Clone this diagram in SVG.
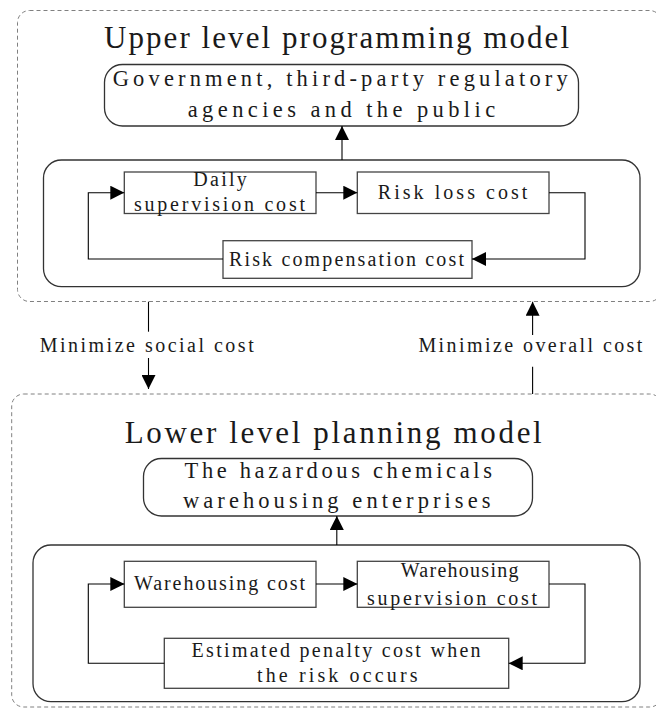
<svg xmlns="http://www.w3.org/2000/svg" width="656" height="708" viewBox="0 0 656 708">
<defs>
<marker id="ah" markerUnits="userSpaceOnUse" markerWidth="14" markerHeight="14" refX="14" refY="7" orient="auto">
<path d="M0,0 L14,7 L0,14 z" fill="#000"/>
</marker>
<style>
.dash{fill:none;stroke:#808080;stroke-width:1;stroke-dasharray:4 3}
.rbox{fill:#fff;stroke:#333;stroke-width:1.3}
.box{fill:#fff;stroke:#444;stroke-width:1.3}
.conn{fill:none;stroke:#000;stroke-width:1.1}
.arr{marker-end:url(#ah)}
text{font-family:"Liberation Serif","DejaVu Serif",serif;fill:#1a1a1a}
.t1{font-size:31px}
.t2{font-size:22.5px}
.t3{font-size:20px}
</style>
</defs>
<g id="upper-frame">
<rect class="dash" x="17.5" y="10.5" width="644" height="291" rx="12"/>
<text class="t1" x="104" y="48" textLength="465" lengthAdjust="spacing">Upper level programming model</text>
</g>
<g id="lower-frame">
<rect class="dash" x="11.7" y="394" width="650" height="313" rx="12"/>
<text class="t1" x="124.7" y="443.3" textLength="417" lengthAdjust="spacing">Lower level planning model</text>
</g>
<g id="upper-inner"><rect class="rbox" x="43.5" y="160" width="596.5" height="126.7" rx="18"/></g>
<g id="lower-inner"><rect class="rbox" x="33" y="545" width="607" height="156.7" rx="18"/></g>
<g id="government">
<rect class="rbox" x="104.5" y="64.5" width="474" height="61.5" rx="18"/>
<text class="t2" x="112.7" y="86" textLength="455" lengthAdjust="spacing">Government, third-party regulatory</text>
<text class="t2" x="187.7" y="117" textLength="307.5" lengthAdjust="spacing">agencies and the public</text>
</g>
<g id="daily">
<rect class="box" x="124.3" y="172" width="191.7" height="41.5"/>
<text class="t3" x="193.3" y="186" textLength="53.5" lengthAdjust="spacing">Daily</text>
<text class="t3" x="134" y="210.5" textLength="171" lengthAdjust="spacing">supervision cost</text>
</g>
<g id="riskloss">
<rect class="box" x="357.3" y="172" width="191.7" height="41.5"/>
<text class="t3" x="377.8" y="198.5" textLength="149.6" lengthAdjust="spacing">Risk loss cost</text>
</g>
<g id="compensation">
<rect class="box" x="223" y="240.7" width="249" height="37.6"/>
<text class="t3" x="229" y="265.5" textLength="235" lengthAdjust="spacing">Risk compensation cost</text>
</g>
<g id="hazardous">
<rect class="rbox" x="143.5" y="458.5" width="389" height="57.5" rx="18"/>
<text class="t2" x="184.5" y="478.3" textLength="307.5" lengthAdjust="spacing">The hazardous chemicals</text>
<text class="t2" x="183" y="508.3" textLength="307.5" lengthAdjust="spacing">warehousing enterprises</text>
</g>
<g id="warehousing">
<rect class="box" x="124.3" y="561.3" width="191.7" height="46"/>
<text class="t3" x="134" y="590" textLength="171" lengthAdjust="spacing">Warehousing cost</text>
</g>
<g id="wsupervision">
<rect class="box" x="357.3" y="561.3" width="191.7" height="46"/>
<text class="t3" x="400.8" y="576.7" textLength="117.7" lengthAdjust="spacing">Warehousing</text>
<text class="t3" x="367" y="604.5" textLength="170" lengthAdjust="spacing">supervision cost</text>
</g>
<g id="penalty">
<rect class="box" x="164.3" y="638.3" width="344.4" height="50"/>
<text class="t3" x="191.6" y="656.7" textLength="289" lengthAdjust="spacing">Estimated penalty cost when</text>
<text class="t3" x="257" y="681.7" textLength="160.5" lengthAdjust="spacing">the risk occurs</text>
</g>
<g id="labels">
<text class="t3" x="39.7" y="351.5" textLength="214" lengthAdjust="spacing">Minimize social cost</text>
<text class="t3" x="418.4" y="351.5" textLength="224" lengthAdjust="spacing">Minimize overall cost</text>
</g>
<g id="connectors">
<path class="conn arr" d="M342,160 V126"/>
<path class="conn arr" d="M316,192.7 H357.3"/>
<path class="conn arr" d="M549,192.7 H585 V259 H472"/>
<path class="conn arr" d="M223,259 H88.3 V192.7 H124.3"/>
<path class="conn" d="M148.5,301.7 V331.7"/>
<path class="conn arr" d="M148.5,358 V389"/>
<path class="conn" d="M532.6,394 V366.7"/>
<path class="conn arr" d="M532.6,335 V301.7"/>
<path class="conn arr" d="M336.8,545 V516"/>
<path class="conn arr" d="M316,584 H357.3"/>
<path class="conn arr" d="M549,584 H585 V663.3 H508.7"/>
<path class="conn arr" d="M164.3,663.3 H88.3 V584 H124.3"/>
</g>
</svg>
